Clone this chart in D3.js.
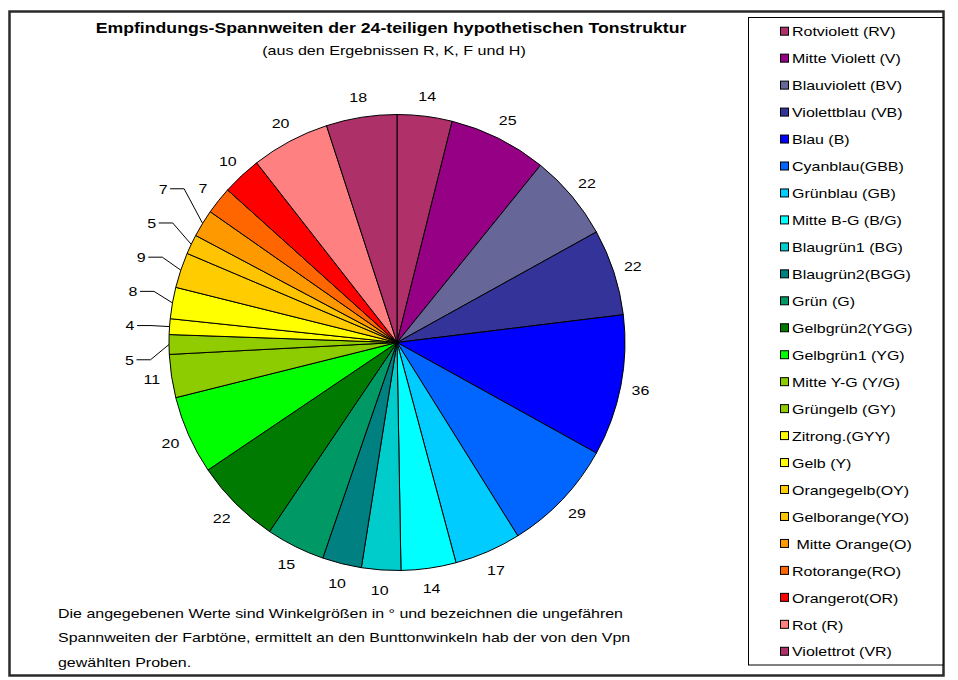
<!DOCTYPE html>
<html><head><meta charset="utf-8">
<script src="https://cdn.jsdelivr.net/npm/d3@7/dist/d3.min.js"></script>
<style>
html,body{margin:0;padding:0;background:#fff;}
svg{display:block;font-family:"Liberation Sans",Arial,sans-serif;}
svg text{white-space:pre;}
</style></head>
<body>
<svg id="chart" width="958" height="680"></svg>
<script>
// ---- data ----
const categories = ["Rotviolett (RV)","Mitte Violett (V)","Blauviolett (BV)","Violettblau (VB)","Blau (B)","Cyanblau(GBB)","Grünblau (GB)","Mitte B-G (B/G)","Blaugrün1 (BG)","Blaugrün2(BGG)","Grün (G)","Gelbgrün2(YGG)","Gelbgrün1 (YG)","Mitte Y-G (Y/G)","Grüngelb (GY)","Zitrong.(GYY)","Gelb (Y)","Orangegelb(OY)","Gelborange(YO)"," Mitte Orange(O)","Rotorange(RO)","Orangerot(OR)","Rot (R)","Violettrot (VR)"];
const values = [14,25,22,22,36,29,17,14,10,10,15,22,20,11,5,4,8,9,5,7,7,10,20,18];
const colors = ["#B0306A","#960084","#666699","#333399","#0000FF","#0066FF","#00CCFF","#00FFFF","#00CCCC","#008080","#009966","#007A00","#00FF00","#8CCC00","#90CC00","#FFFF00","#FFFF00","#FFCC00","#FFC400","#FF9900","#FF6600","#FF0000","#FF8080","#AD3068"];
const title = "Empfindungs-Spannweiten der 24-teiligen hypothetischen Tonstruktur";
const subtitle = "(aus den Ergebnissen R, K, F und H)";
const noteLines = ["Die angegebenen Werte sind Winkelgrößen in ° und bezeichnen die ungefähren","Spannweiten der Farbtöne, ermittelt an den Bunttonwinkeln hab der von den Vpn","gewählten Proben."];

// ---- layout ----
const SX = 1.2;            // horizontal text stretch seen in the reference
const cx = 397, cy = 342.5, R = 228, LR = 248, STACK_R = 272;
const svg = d3.select("#chart");
svg.append("rect").attr("width",958).attr("height",680).attr("fill","#fff");

function txt(parent, x, y, s, opts = {}) {
  return parent.append("text")
    .attr("transform", `translate(${x},${y}) scale(${opts.sx || SX},1)`)
    .attr("text-anchor", opts.anchor || "start")
    .attr("font-size", opts.size || 13.3)
    .attr("font-weight", opts.weight || "normal")
    .attr("fill", "#000")
    .text(s);
}

// outer frame
svg.append("rect").attr("x",9.5).attr("y",11.5).attr("width",934).attr("height",664)
  .attr("fill","none").attr("stroke","#2a2a2a").attr("stroke-width",2.5);

// titles
txt(svg, 391, 33, title, {anchor:"middle", size:14.67, weight:"bold", sx:1.205});
txt(svg, 394, 54.5, subtitle, {anchor:"middle", size:13.3, sx:1.21});

// pie
const pie = d3.pie().sort(null).value(d => d)
  .startAngle(0).endAngle(2*Math.PI);
const arcs = pie(values);
const arcGen = d3.arc().innerRadius(0).outerRadius(R);
const g = svg.append("g").attr("transform", `translate(${cx},${cy})`);
g.selectAll("path").data(arcs).join("path")
  .attr("d", arcGen)
  .attr("fill", (d,i) => colors[i])
  .attr("stroke", "#000").attr("stroke-width", 1).attr("stroke-linejoin","round");

// labels
const mid = d => (d.startAngle + d.endAngle) / 2;
const pt = (a, r) => [Math.sin(a) * r, -Math.cos(a) * r];
const n = values.length;
const needsLeader = arcs.map((d,i) => values[i] <= 9 && values[(i+1)%n] <= 9);
const labelPos = arcs.map(d => pt(mid(d), LR));
// stack leader labels in a column
const leaderIdx = arcs.map((d,i)=>i).filter(i => needsLeader[i]);
if (leaderIdx.length) {
  const meanY = d3.mean(leaderIdx, i => pt(mid(arcs[i]), STACK_R)[1]);
  const gap = 34.2;
  const ordered = leaderIdx.slice().sort((a,b) => a - b);
  const k = ordered.length;
  ordered.forEach((i, j) => {
    const e = pt(mid(arcs[i]), R);
    const y = meanY + ((k - 1) / 2 - j) * gap;
    labelPos[i] = [e[0] - 39.5, y];
  });
}
const lg = svg.append("g").attr("transform", `translate(${cx},${cy})`);
arcs.forEach((d,i) => {
  const [x,y] = labelPos[i];
  if (needsLeader[i]) {
    const e = pt(mid(d), R);
    lg.append("path")
      .attr("d", d3.line()([[x+7,y],[x+21,y],e]))
      .attr("fill","none").attr("stroke","#000").attr("stroke-width",1);
  }
  txt(lg, x, y + 4.8, String(values[i]), {anchor:"middle", size:13.3});
});

// note
noteLines.forEach((s,i) => txt(svg, 58, 618 + i*24.3, s, {size:13.3}));

// legend
svg.append("rect").attr("x",748.5).attr("y",17.5).attr("width",194.5).attr("height",647.5)
  .attr("fill","#fff").attr("stroke","#000").attr("stroke-width",1);
const leg = svg.append("g");
categories.forEach((c,i) => {
  const y = 31.7 + i * 26.96;
  leg.append("rect").attr("x",780.5).attr("y",y-4.5).attr("width",8).attr("height",8)
    .attr("fill",colors[i]).attr("stroke","#000").attr("stroke-width",1);
  txt(leg, 792, y + 4.7, c, {size:13.3});
});
</script>
</body></html>
